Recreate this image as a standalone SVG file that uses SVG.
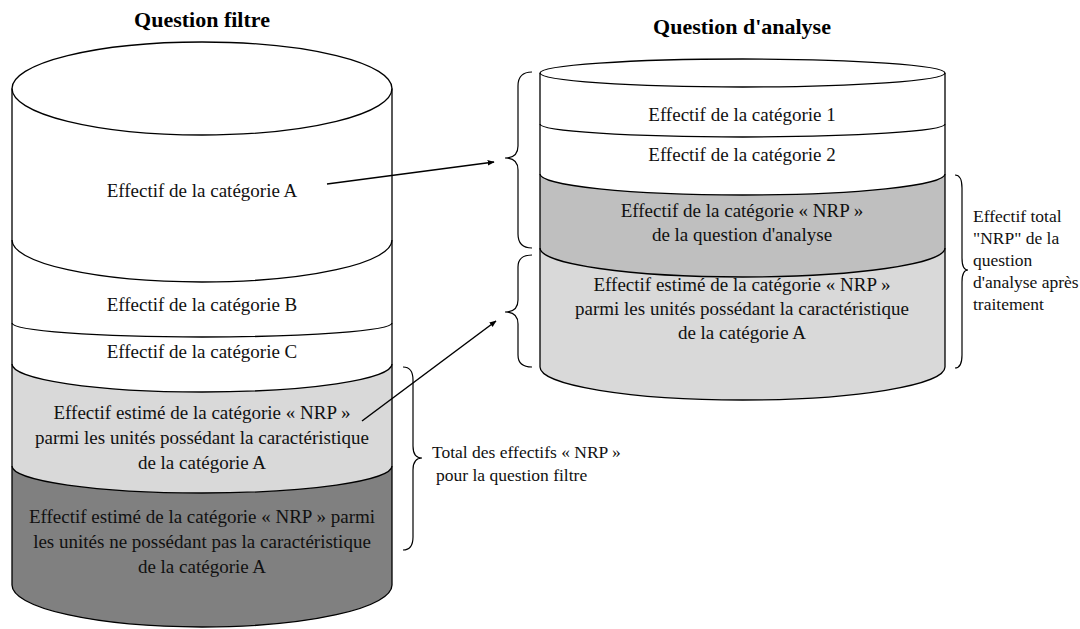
<svg xmlns="http://www.w3.org/2000/svg" width="1080" height="629" viewBox="0 0 1080 629">
<defs>
<style>
.o{fill:none;stroke:#000;stroke-width:1.3}
.t{font-family:"Liberation Serif","Times New Roman",serif;font-size:19px;fill:#111;text-anchor:middle}
.s{font-family:"Liberation Serif","Times New Roman",serif;font-size:17.5px;fill:#111}
.h{font-family:"Liberation Serif","Times New Roman",serif;font-size:22px;font-weight:bold;fill:#000;text-anchor:middle}
.br{fill:none;stroke:#000;stroke-width:1.2}
.ar{fill:none;stroke:#000;stroke-width:1.5}
</style>
<marker id="ah" viewBox="0 0 10 10" refX="9" refY="5" markerWidth="7" markerHeight="7" orient="auto" markerUnits="userSpaceOnUse">
<path d="M0,1 L10,5 L0,9 Z" fill="#000"/>
</marker>
</defs>
<rect width="1080" height="629" fill="#fff"/>

<text class="h" x="202" y="27">Question filtre</text>
<text class="h" x="742" y="34">Question d'analyse</text>

<g id="cyl-filtre">
<path d="M12,466 A190,27 0 0 0 392,466 L392,585 A190,42 0 0 1 12,585 Z" fill="#808080"/>
<path d="M12,364 A190,28 0 0 0 392,364 L392,466 A190,27 0 0 1 12,466 Z" fill="#d9d9d9"/>
<ellipse class="o" cx="202" cy="88.5" rx="190" ry="46.5"/>
<path class="o" d="M12,88.5 L12,585 A190,42 0 0 0 392,585 L392,88.5"/>
<path class="o" d="M12,240 A190,42 0 0 0 392,240"/>
<path class="o" d="M12,323 A190,14 0 0 0 392,323"/>
<path class="o" d="M12,364 A190,28 0 0 0 392,364"/>
<path class="o" d="M12,466 A190,27 0 0 0 392,466"/>
<text class="t" x="202" y="197">Effectif de la catégorie A</text>
<text class="t" x="202" y="311">Effectif de la catégorie B</text>
<text class="t" x="202" y="358">Effectif de la catégorie C</text>
<text class="t" x="202" y="419">Effectif estimé de la catégorie « NRP »</text>
<text class="t" x="202" y="444">parmi les unités possédant la caractéristique</text>
<text class="t" x="202" y="469">de la catégorie A</text>
<text class="t" x="202" y="523">Effectif estimé de la catégorie « NRP » parmi</text>
<text class="t" x="202" y="548">les unités ne possédant pas la caractéristique</text>
<text class="t" x="202" y="573">de la catégorie A</text>
</g>

<g id="cyl-analyse">
<path d="M540,248 A202.5,29 0 0 0 945,248 L945,367 A202.5,33 0 0 1 540,367 Z" fill="#d9d9d9"/>
<path d="M540,174 A202.5,21 0 0 0 945,174 L945,248 A202.5,29 0 0 1 540,248 Z" fill="#bfbfbf"/>
<ellipse class="o" cx="742.5" cy="73" rx="202.5" ry="14"/>
<path class="o" d="M540,73 L540,367 A202.5,33 0 0 0 945,367 L945,73"/>
<path class="o" d="M540,124 A202.5,13 0 0 0 945,124"/>
<path class="o" d="M540,174 A202.5,21 0 0 0 945,174"/>
<path class="o" d="M540,248 A202.5,29 0 0 0 945,248"/>
<text class="t" x="742" y="121">Effectif de la catégorie 1</text>
<text class="t" x="742" y="161">Effectif de la catégorie 2</text>
<text class="t" x="742" y="217">Effectif de la catégorie « NRP »</text>
<text class="t" x="742" y="241">de la question d'analyse</text>
<text class="t" x="742" y="291">Effectif estimé de la catégorie « NRP »</text>
<text class="t" x="742" y="315">parmi les unités possédant la caractéristique</text>
<text class="t" x="742" y="339">de la catégorie A</text>
</g>

<g id="brace-analyse-1">
<path class="br" d="M532,72 Q518,72 518,86 L518,146 Q518,158 505,158 Q518,158 518,170 L518,234 Q518,248 532,248"/>
</g>
<g id="brace-analyse-2">
<path class="br" d="M532,255 Q518,255 518,267 L518,300 Q518,312 505,312 Q518,312 518,324 L518,355 Q518,367 532,367"/>
</g>
<g id="brace-total-analyse">
<path class="br" d="M955,175 Q962,175 962,188 L962,258 Q962,270 968,270 Q962,270 962,282 L962,355 Q962,368 955,368"/>
<text class="s" x="973" y="222">Effectif total</text>
<text class="s" x="973" y="244">"NRP" de la</text>
<text class="s" x="973" y="266">question</text>
<text class="s" x="973" y="288">d'analyse après</text>
<text class="s" x="973" y="310">traitement</text>
</g>
<g id="brace-total-filtre">
<path class="br" d="M403,367 Q413,367 413,380 L413,446 Q413,458 422,458 Q413,458 413,470 L413,537 Q413,550 403,550"/>
<text class="s" x="432" y="458">Total des effectifs « NRP »</text>
<text class="s" x="436" y="481">pour la question filtre</text>
</g>

<g id="connectors">
<line class="ar" x1="327" y1="184" x2="494" y2="162" marker-end="url(#ah)"/>
<line class="ar" x1="362" y1="421" x2="496" y2="321" marker-end="url(#ah)"/>
</g>
</svg>
